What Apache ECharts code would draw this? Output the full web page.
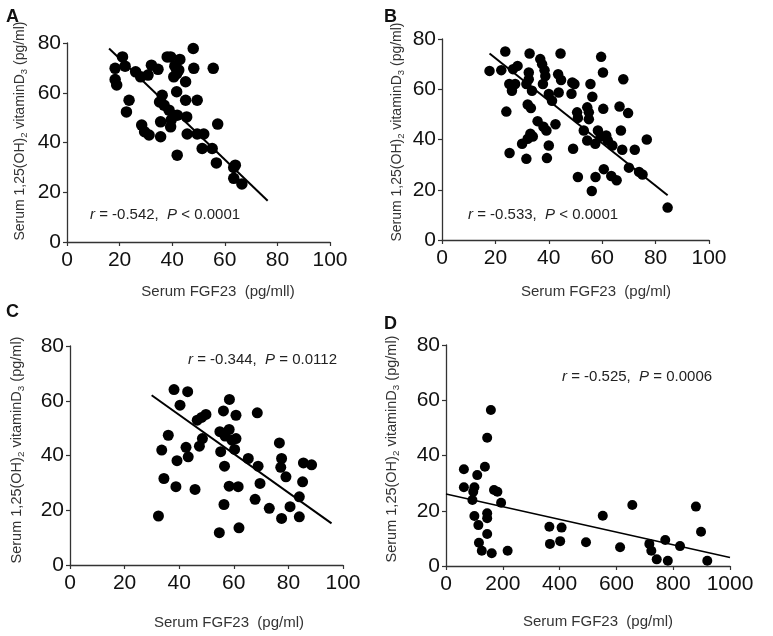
<!DOCTYPE html>
<html>
<head>
<meta charset="utf-8">
<script src="https://cdn.jsdelivr.net/npm/echarts@6/dist/echarts.min.js"></script>
<style>
html,body{margin:0;padding:0;background:#fff;}
#c{width:773px;height:636px;}
</style>
</head>
<body>
<div id="c"></div>
<script>
// Panel A
const aX = [21.1,18.3,22.1,18.3,18.9,26.1,28,30.8,32.1,34.6,38.1,39.4,42.9,48,48.2,55.6,41,42.5,40.6,41.7,45.1,41.7,45.1,49.5,23.6,22.6,36.2,35.2,36.9,38.8,41.9,45.5,39.6,35.6,39.4,28.4,29.5,31.2,35.6,45.7,49.5,52,57.3,51.4,55.2,41.9,56.8,63.4,64,63.4,66.5];
const aY = [74.4,69.8,70.7,65.3,63.1,68.4,66.4,67.1,71.1,69.4,74.4,74.4,73.4,77.8,69.8,69.8,70.7,69.1,66.4,67.7,64.4,60.4,57,57,57,52.3,59,56.3,55,53,51,50.3,49,48.3,46.3,47,44.3,43,42.3,43.4,43.4,43.4,47.4,37.6,37.6,34.9,31.8,30,30.9,25.6,23.3];
const aLine = [[16,77.8],[76.3,16.6]];
// Panel B
const bX = [17.8,22.2,23.7,26.6,28.3,25.2,27.4,26.2,32.8,32.5,32.5,31.6,33.7,36.8,37.5,38.4,38.7,37.8,40,41.2,44.4,43.5,44.6,43.7,48.8,49.6,48.5,24.1,32.1,33.3,35.8,38,39.1,42.5,33.1,34,32.1,30,40,25.3,31.6,39.3,49.1,50.6,50.9,54.4,55,55,55.6,56.3,60.4,59.6,60.3,67.9,66.5,69.7,53.1,54.4,57.4,58.4,59.4,61.5,62.1,63.8,67,67.5,72.2,76.7,70,73.8,75.1,50.9,57.5,60.6,63.4,65.4,56.1,84.5];
const bY = [67.3,67.6,75,68,69.3,62.1,62.1,59.4,74.2,66.7,64,62.1,59.4,72,70,67.6,65.3,62.1,58.1,55.4,74.2,66,63.7,58.7,62.7,62.1,58.2,51.1,53.9,52.5,47.3,45.1,43.6,46.1,42.3,41.2,40.3,38.3,37.6,34.6,32.3,32.6,36.3,50.8,48.6,52.8,50.8,48.1,62.1,57,52.2,72.9,66.7,64,53.1,50.5,43.6,39.6,38.3,43.6,41.2,41.6,39.6,37.6,43.6,35.9,35.9,40,28.8,27.1,26.1,25.1,25.1,28.2,25.5,23.8,19.5,12.9];
const bLine = [[17.8,74.2],[84.5,17.8]];
// Panel C
const cX = [38.1,43.1,40.3,58.4,56.2,60.8,68.6,49.8,48.2,46.6,36,33.6,42.5,43.3,39.2,47.4,48.5,54.9,56.8,58.3,59.3,60.8,60.3,55.2,65.3,68.9,56.6,34.4,38.8,45.8,58.3,61.6,69.6,76.7,77.5,77.2,79.1,85.5,88.5,85.2,84,67.8,73,80.6,77.5,84,56.4,32.4,54.7,61.9];
const cY = [64.1,63.3,58.4,60.5,56.3,54.7,55.6,55,53.9,52.9,47.4,42,43,39.5,38.1,43.4,46.2,48.7,47.1,49.5,45.6,46.2,42.2,41.4,38.9,36.1,36.1,31.6,28.6,27.6,28.8,28.6,29.8,44.6,38.9,35.7,32.2,37.3,36.6,30.4,24.9,24,20.7,21.3,17,17.6,22.1,17.9,11.8,13.6];
const cLine = [[29.9,62],[95.8,15.2]];
// Panel D
const dX = [158,145,63,137,110,63,100,96,93,169,181,194,145,145,100,114,145,116,126,161,217,364,366,407,402,493,552,613,656,716,723,742,772,781,824,880,898,920];
const dY = [56.5,46.4,35,35.9,32.9,28.5,28.5,26.9,23.9,27.5,26.9,22.9,19.1,17.3,18.1,14.8,11.6,8.4,5.5,4.6,5.5,14.2,8,13.9,9,8.6,18.2,6.8,22.1,8,5.5,2.4,9.4,1.9,7.2,21.5,12.4,1.9];
const dLine = [[0,26.1],[1000,3.1]];

const panelLetters = ['A','B','C','D'];
const annotations = [
  ['r', ' = -0.542,  ', 'P', ' < 0.0001'],
  ['r', ' = -0.533,  ', 'P', ' < 0.0001'],
  ['r', ' = -0.344,  ', 'P', ' = 0.0112'],
  ['r', ' = -0.525,  ', 'P', ' = 0.0006']
];
const xTitles = ['Serum FGF23  (pg/mll)', 'Serum FGF23  (pg/ml)', 'Serum FGF23  (pg/ml)', 'Serum FGF23  (pg/ml)'];
const yTitle = ['Serum 1,25(OH)', '2', ' vitaminD', '3', ' (pg/ml)'];
const xMax = [100, 100, 100, 1000];
const xInterval = [20, 20, 20, 200];
const yMax = 80, yInterval = 20;

const FONT = '"Liberation Sans", Arial, sans-serif';
const grids = [
  {left: 67, top: 43, width: 263, height: 199},
  {left: 442, top: 39, width: 267, height: 201},
  {left: 70, top: 346, width: 273, height: 219},
  {left: 446, top: 345, width: 284, height: 221}
];
const dotSize = [11.5, 10.5, 11, 10];
const lineWidth = [2, 2, 2, 1.5];

function pairs(xs, ys){ return xs.map((x,i)=>[x, ys[i]]); }
const scatterData = [pairs(aX,aY), pairs(bX,bY), pairs(cX,cY), pairs(dX,dY)];
const lineData = [aLine, bLine, cLine, dLine];

const axisLine = {show: true, lineStyle: {color: '#333', width: 1.3}};
const axisTick = {show: true, length: 4, lineStyle: {color: '#333', width: 1.2}};

const xAxes = [], yAxes = [], series = [];
for (let i = 0; i < 4; i++) {
  xAxes.push({
    gridIndex: i, type: 'value', min: 0, max: xMax[i], interval: xInterval[i],
    axisLine, axisTick, splitLine: {show: false},
    axisLabel: {fontFamily: FONT, fontSize: 21, color: '#111', margin: 8, formatter: v => String(v)}
  });
  yAxes.push({
    gridIndex: i, type: 'value', min: 0, max: yMax, interval: yInterval,
    axisLine, axisTick, splitLine: {show: false},
    axisLabel: {fontFamily: FONT, fontSize: 21, color: '#111', margin: 6, formatter: v => String(v)}
  });
  series.push({
    type: 'scatter', xAxisIndex: i, yAxisIndex: i, data: scatterData[i],
    symbolSize: dotSize[i], itemStyle: {color: '#000', opacity: 1}, silent: true, z: 3
  });
  series.push({
    type: 'line', xAxisIndex: i, yAxisIndex: i, data: lineData[i],
    symbol: 'none', lineStyle: {color: '#000', width: lineWidth[i]}, silent: true, z: 4
  });
}

const letterPos = [[6,17],[384,17],[6,312],[384,324]];
const annPos = [[90,215],[468,215],[188,360],[562,377]];
const xTitlePos = [[218,292],[596,292],[229,623],[598,622]];
const yTitlePos = [[20,131],[397,132],[17,450],[392,449]];
const yTitleSize = [14, 14, 14.5, 14.5];

const graphic = [];
const richAnn = {
  i: {fontFamily: FONT, fontSize: 15, fontStyle: 'italic', fill: '#222'},
  n: {fontFamily: FONT, fontSize: 15, fill: '#222'}
};
for (let i = 0; i < 4; i++) {
  const fs = yTitleSize[i];
  const richY = {
    n: {fontFamily: FONT, fontSize: fs, fill: '#333', lineHeight: 18},
    s: {fontFamily: FONT, fontSize: fs * 0.68, fill: '#333', lineHeight: 18, verticalAlign: 'bottom', padding: [6,0,0,0]}
  };
  graphic.push({type: 'text', x: letterPos[i][0], y: letterPos[i][1],
    style: {text: panelLetters[i], font: 'bold 18px ' + FONT, fill: '#111', verticalAlign: 'middle'}});
  const a = annotations[i];
  graphic.push({type: 'text', x: annPos[i][0], y: annPos[i][1],
    style: {text: '{i|' + a[0] + '}{n|' + a[1] + '}{i|' + a[2] + '}{n|' + a[3] + '}',
      rich: richAnn, verticalAlign: 'middle', align: 'left'}});
  graphic.push({type: 'text', x: xTitlePos[i][0], y: xTitlePos[i][1],
    style: {text: xTitles[i], font: '15px ' + FONT, fill: '#333', align: 'center', verticalAlign: 'middle'}});
  graphic.push({type: 'text', x: yTitlePos[i][0], y: yTitlePos[i][1], rotation: Math.PI / 2,
    style: {text: '{n|' + yTitle[0] + '}{s|' + yTitle[1] + '}{n|' + yTitle[2] + '}{s|' + yTitle[3] + '}{n|' + yTitle[4] + '}',
      rich: richY, align: 'center', verticalAlign: 'middle'}});
}

const chart = echarts.init(document.getElementById('c'), null, {renderer: 'canvas'});
chart.setOption({
  animation: false,
  backgroundColor: '#fff',
  grid: grids,
  xAxis: xAxes,
  yAxis: yAxes,
  series,
  graphic
});
</script>
</body>
</html>
